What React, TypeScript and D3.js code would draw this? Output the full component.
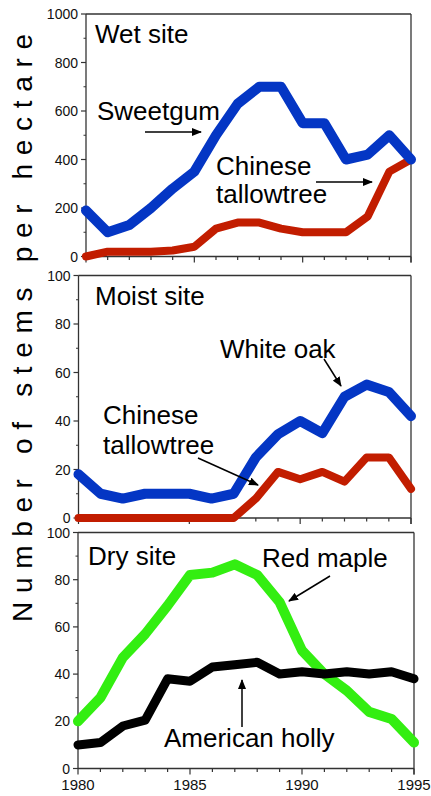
import React from "react";
import * as d3 from "d3";

const years = [1980, 1981, 1982, 1983, 1984, 1985, 1986, 1987, 1988, 1989, 1990, 1991, 1992, 1993, 1994, 1995];
const wetSweetgum = [190, 100, 130, 200, 280, 350, 500, 630, 700, 700, 550, 550, 400, 420, 500, 400];
const wetTallow = [0, 20, 20, 20, 25, 40, 115, 140, 140, 115, 100, 100, 100, 165, 350, 400];
const moistWhiteOak = [18, 10, 8, 10, 10, 10, 8, 10, 25, 34.5, 40, 35, 50, 55, 52, 42];
const moistTallow = [0, 0, 0, 0, 0, 0, 0, 0, 8, 19, 16, 19, 15, 25, 25, 12];
const dryRedMaple = [20, 30, 47, 57, 69, 82, 83, 86.5, 82, 70.5, 50, 40, 33, 24, 21, 11];
const dryHolly = [10, 11, 18, 20.5, 38, 37, 43, 44, 45, 40, 41, 40, 41, 40, 41, 38];

const wetTicks = [0, 200, 400, 600, 800, 1000];
const pctTicks = [0, 20, 40, 60, 80, 100];
const xTickLabels = [1980, 1985, 1990, 1995];

const FONT = "'Liberation Sans', Arial, Helvetica, sans-serif";

type Series = { values: number[]; color: string; width: number };
type Label = { lines: string[]; x: number; y: number; lh?: number; arrow?: [number, number, number, number] };
type Panel = {
  left: number; right: number; top: number; bottom: number;
  yMax: number; ticks: number[]; minorStep: number;
  series: Series[]; labels: Label[]; showX: boolean;
};

const BLUE = "#0436c4";
const RED = "#c21d00";
const GREEN = "#33ee11";
const BLACK = "#000000";

const panels: Panel[] = [
  {
    left: 86, right: 411, top: 14, bottom: 256.5, yMax: 1000, ticks: wetTicks, minorStep: 100,
    series: [
      { values: wetTallow, color: RED, width: 8 },
      { values: wetSweetgum, color: BLUE, width: 10 },
    ],
    labels: [
      { lines: ["Wet site"], x: 95, y: 43 },
      { lines: ["Sweetgum"], x: 97, y: 120, arrow: [145, 132, 201, 132] },
      { lines: ["Chinese", "tallowtree"], x: 216, y: 175, lh: 28, arrow: [316, 182, 372, 182] },
    ],
    showX: false,
  },
  {
    left: 78.5, right: 411, top: 275.5, bottom: 518, yMax: 100, ticks: pctTicks, minorStep: 10,
    series: [
      { values: moistWhiteOak, color: BLUE, width: 10 },
      { values: moistTallow, color: RED, width: 8 },
    ],
    labels: [
      { lines: ["Moist site"], x: 95, y: 305 },
      { lines: ["White oak"], x: 220, y: 358, arrow: [324, 359, 341, 386] },
      { lines: ["Chinese", "tallowtree"], x: 103, y: 424, lh: 30, arrow: [198, 458, 258, 485] },
    ],
    showX: false,
  },
  {
    left: 78, right: 414, top: 532.5, bottom: 768.5, yMax: 100, ticks: pctTicks, minorStep: 10,
    series: [
      { values: dryRedMaple, color: GREEN, width: 10 },
      { values: dryHolly, color: BLACK, width: 9 },
    ],
    labels: [
      { lines: ["Dry site"], x: 88, y: 565 },
      { lines: ["Red maple"], x: 262, y: 567, arrow: [330, 576, 289, 601] },
      { lines: ["American holly"], x: 164, y: 747, arrow: [242, 727, 242, 680] },
    ],
    showX: true,
  },
];

function PanelView({ p, idx }: { p: Panel; idx: number }) {
  const x = d3.scaleLinear().domain([years[0], years[years.length - 1]]).range([p.left, p.right]);
  const y = d3.scaleLinear().domain([0, p.yMax]).range([p.bottom, p.top]);
  const line = d3.line<number>().x((_, i) => x(years[i])).y((v) => y(v));
  const minors = d3.range(p.minorStep, p.yMax, p.minorStep * 2);
  const axisColor = "#333";
  return (
    <g>
      {/* frame */}
      <line x1={p.left} x2={p.right} y1={p.top} y2={p.top} stroke={axisColor} strokeWidth={1.3} />
      <line x1={p.right} x2={p.right} y1={p.top} y2={p.bottom + 6} stroke={axisColor} strokeWidth={1.3} />
      <line x1={p.left} x2={p.left} y1={p.top} y2={p.bottom} stroke={axisColor} strokeWidth={1.3} />
      <line x1={p.left} x2={p.right} y1={p.bottom} y2={p.bottom} stroke={axisColor} strokeWidth={1.3} />
      {/* y ticks */}
      {p.ticks.map((t) => (
        <g key={"yt" + t}>
          <line x1={p.left - 5} x2={p.left} y1={y(t)} y2={y(t)} stroke={axisColor} strokeWidth={1.2} />
          <text x={p.left - 8} y={y(t)} dy="0.36em" textAnchor="end" fontSize={14} fontFamily={FONT} fill="#111">
            {t}
          </text>
        </g>
      ))}
      {minors.map((t) => (
        <line key={"ym" + t} x1={p.left - 2.5} x2={p.left} y1={y(t)} y2={y(t)} stroke={axisColor} strokeWidth={1} />
      ))}
      {/* x ticks */}
      {years.map((yr) => {
        const major = xTickLabels.includes(yr);
        return (
          <line key={"xt" + yr} x1={x(yr)} x2={x(yr)} y1={p.bottom} y2={p.bottom + (major ? 6 : 3.5)} stroke={axisColor} strokeWidth={1.2} />
        );
      })}
      {p.showX &&
        xTickLabels.map((yr) => (
          <text key={"xl" + yr} x={x(yr)} y={p.bottom + 21} textAnchor="middle" fontSize={15} fontFamily={FONT} fill="#111">
            {yr}
          </text>
        ))}
      {/* series */}
      {p.series.map((s, i) => (
        <path key={"s" + i} d={line(s.values) || ""} fill="none" stroke={s.color} strokeWidth={s.width} strokeLinejoin="round" strokeLinecap="round" />
      ))}
      {/* labels */}
      {p.labels.map((l, i) => (
        <g key={"l" + i}>
          {l.lines.map((ln, j) => (
            <text key={j} x={l.x} y={l.y + j * (l.lh || 28)} fontSize={26} fontFamily={FONT} fill="#000">
              {ln}
            </text>
          ))}
          {l.arrow && (
            <line x1={l.arrow[0]} y1={l.arrow[1]} x2={l.arrow[2]} y2={l.arrow[3]} stroke="#000" strokeWidth={1.5} markerEnd={`url(#arrow)`} />
          )}
        </g>
      ))}
    </g>
  );
}

export default function App() {
  return (
    <svg width={431} height={796} style={{ position: "absolute", left: 0, top: 0, background: "#fff" }}>
      <defs>
        <marker id="arrow" markerUnits="userSpaceOnUse" markerWidth={10} markerHeight={8} refX={9} refY={4} orient="auto">
          <path d="M0,0 L10,4 L0,8 Z" fill="#000" />
        </marker>
      </defs>
      <rect x={0} y={0} width={431} height={796} fill="#fff" />
      {panels.map((p, i) => (
        <PanelView key={i} p={p} idx={i} />
      ))}
      <text
        transform="translate(32,328) rotate(-90)"
        textAnchor="middle"
        fontSize={28}
        fontFamily={FONT}
        fill="#000"
        textLength={588}
        lengthAdjust="spacing"
      >
        Number of stems per hectare
      </text>
    </svg>
  );
}
